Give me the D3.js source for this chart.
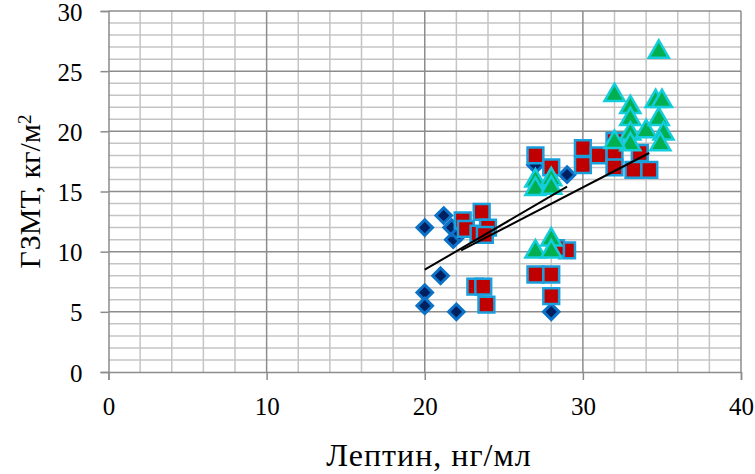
<!DOCTYPE html>
<html>
<head>
<meta charset="utf-8">
<script src="https://cdn.jsdelivr.net/npm/d3@7"></script>
<style>
  body { margin: 0; background: #fff; }
  svg { display: block; font-family: "Liberation Serif", "Times New Roman", serif; }
</style>
</head>
<body>
<svg id="chart" width="755" height="474"></svg>
<script>
// series values
const blueX = [20, 21.2, 21.8, 21.7, 22.2, 21, 20, 20, 22, 27, 29, 28];
const blueY = [12, 13, 11, 12, 11.5, 8, 6.6, 5.5, 5, 17.2, 16.4, 5];

const redX = [22.4, 23.6, 22.6, 23.4, 24, 23.8, 23.2, 23.7, 23.9,
              27, 28, 30, 30, 31, 29, 28.3, 27, 28, 28,
              32, 32, 32, 33.6, 33.2, 34.2];
const redY = [12.6, 13.3, 11.9, 11.5, 12, 11.4, 7.1, 7.1, 5.6,
              18, 17, 18.6, 17.2, 18, 10.1, 10.3, 8.1, 8.1, 6.3,
              19.2, 18.1, 17, 18.2, 16.8, 16.8];

const greenX = [27, 27, 28, 28, 27, 28, 28,
                34.8, 32, 33, 33, 33, 33, 32, 34, 34.6, 35, 34.8, 35.1, 34.9];
const greenY = [15.9, 15.2, 16, 15.3, 10, 11, 10,
                26.6, 23, 22, 21, 19.8, 18.9, 19.1, 20, 22.5, 22.5, 21, 19.8, 18.9];

// trend lines (end points)
const trend1X = [20, 29];
const trend1Y = [8.5, 15.4];
const trend2X = [22.3, 34.2];
const trend2Y = [10.1, 18.2];

const xTicks = [0, 10, 20, 30, 40];
const yTicks = [0, 5, 10, 15, 20, 25, 30];

const margin = { top: 11, right: 14, bottom: 102, left: 108.5 };
const width = 755 - margin.left - margin.right;
const height = 474 - margin.top - margin.bottom;

const svg = d3.select('#chart');
const g = svg.append('g').attr('transform', `translate(${margin.left},${margin.top})`);

const x = d3.scaleLinear().domain([0, 40]).range([0, width]);
const y = d3.scaleLinear().domain([0, 30]).range([height, 0]);

// minor grid
g.append('g')
    .selectAll('line')
    .data(d3.range(0, 41, 2).filter(v => v % 10 !== 0))
    .enter().append('line')
    .attr('x1', d => x(d)).attr('x2', d => x(d))
    .attr('y1', 0).attr('y2', height)
    .attr('stroke', '#c4c4c4').attr('stroke-width', 1.5);

g.append('g')
    .selectAll('line')
    .data(d3.range(0, 31, 1).filter(v => v % 5 !== 0))
    .enter().append('line')
    .attr('x1', 0).attr('x2', width)
    .attr('y1', d => y(d)).attr('y2', d => y(d))
    .attr('stroke', '#c4c4c4').attr('stroke-width', 1.5);

// major grid
g.append('g')
    .selectAll('line')
    .data(xTicks.slice(1))
    .enter().append('line')
    .attr('x1', d => x(d)).attr('x2', d => x(d))
    .attr('y1', 0).attr('y2', height)
    .attr('stroke', '#8c8c8c').attr('stroke-width', 1.5);

g.append('g')
    .selectAll('line')
    .data(yTicks.slice(1))
    .enter().append('line')
    .attr('x1', 0).attr('x2', width)
    .attr('y1', d => y(d)).attr('y2', d => y(d))
    .attr('stroke', '#8c8c8c').attr('stroke-width', 1.5);

// axes
const xAxis = g.append('g')
    .attr('transform', `translate(0,${height})`)
    .call(d3.axisBottom(x).tickValues(xTicks).tickSize(8).tickPadding(17));
const yAxis = g.append('g')
    .call(d3.axisLeft(y).tickValues(yTicks).tickSize(8).tickPadding(18));

[xAxis, yAxis].forEach(a => {
    a.select('.domain').attr('stroke', '#8c8c8c').attr('stroke-width', 1.5);
    a.selectAll('.tick line').attr('stroke', '#8c8c8c').attr('stroke-width', 1.5);
    a.selectAll('.tick text')
        .attr('fill', '#000')
        .style('font-family', '"Liberation Serif", serif')
        .style('font-size', '25px');
});
yAxis.selectAll('.tick text').attr('dy', '0.36em');

// markers
const diamond = d3.symbol().type(d3.symbolDiamond2).size(155);
const square = d3.symbol().type(d3.symbolSquare).size(250);
const triangle = d3.symbol().type(d3.symbolTriangle).size(175);

const drawSeries = (xs, ys, sym, fill, stroke, sw) => {
    g.append('g')
        .selectAll('path')
        .data(xs.map((v, i) => [v, ys[i]]))
        .enter().append('path')
        .attr('d', sym)
        .attr('transform', d => `translate(${x(d[0])},${y(d[1])})`)
        .attr('fill', fill)
        .attr('stroke', stroke)
        .attr('stroke-width', sw);
};

drawSeries(blueX, blueY, diamond, '#002060', '#0b72c8', 3);
drawSeries(redX, redY, square, '#c00000', '#1a9fdc', 2.5);
drawSeries(greenX, greenY, triangle, '#00b050', '#14cddc', 2.5);

// trend lines
const line = d3.line().x(d => x(d[0])).y(d => y(d[1]));
[[trend1X, trend1Y], [trend2X, trend2Y]].forEach(([tx, ty]) => {
    g.append('path')
        .attr('d', line(tx.map((v, i) => [v, ty[i]])))
        .attr('fill', 'none')
        .attr('stroke', '#000')
        .attr('stroke-width', 2);
});

// titles
svg.append('text')
    .attr('x', 429)
    .attr('y', 466)
    .attr('text-anchor', 'middle')
    .style('font-size', '32px')
    .style('letter-spacing', '1px')
    .text('Лептин, нг/мл');

const yTitle = svg.append('text')
    .attr('transform', `translate(40,${margin.top + height / 2}) rotate(-90)`)
    .attr('text-anchor', 'middle')
    .style('font-size', '30px');
yTitle.append('tspan').text('ГЗМТ, кг/м');
yTitle.append('tspan').attr('dy', '-0.45em').style('font-size', '19px').text('2');
</script>
</body>
</html>
